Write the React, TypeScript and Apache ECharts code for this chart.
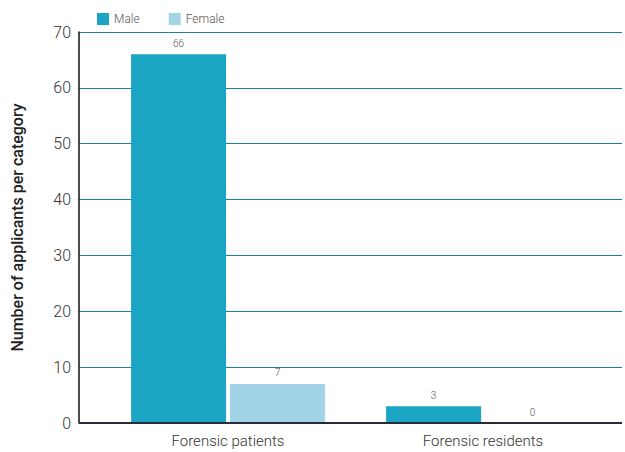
import React, { useEffect, useRef } from "react";
import * as echarts from "echarts";

const categories = ["Forensic patients", "Forensic residents"];
const seriesNames = ["Male", "Female"];
const maleValues = [66, 3];
const femaleValues = [7, 0];
const yTicks = { min: 0, max: 70, interval: 10 };
const yAxisTitle = "Number of applicants per category";

const FONT = "Roboto, 'DejaVu Sans', sans-serif";

export default function App() {
  const ref = useRef<HTMLDivElement>(null);
  useEffect(() => {
    if (!ref.current) return;
    const chart = echarts.init(ref.current, null, { renderer: "svg" });
    const labelStyle = {
      show: true,
      position: "top",
      distance: 6,
      color: "#555",
      fontSize: 10,
      fontWeight: 300,
      fontFamily: FONT,
    };
    chart.setOption({
      animation: false,
      textStyle: { fontFamily: FONT },
      legend: {
        left: 92,
        top: 8,
        itemWidth: 12,
        itemHeight: 12,
        itemGap: 29,
        icon: "rect",
        data: seriesNames,
        textStyle: { color: "#555", fontSize: 12, fontWeight: 300, fontFamily: FONT },
      },
      grid: [
        { left: 79, right: 3, top: 32, bottom: 29 },
        { left: 100.5, right: 14.5, top: 32, bottom: 29 },
      ],
      xAxis: [
        {
          gridIndex: 0,
          type: "category",
          data: categories,
          show: false,
        },
        {
          gridIndex: 1,
          type: "category",
          data: categories,
          axisLine: { show: false },
          axisTick: { show: false },
          axisLabel: { color: "#333", fontSize: 15, fontWeight: 300, margin: 10, fontFamily: FONT },
        },
      ],
      yAxis: [
        {
          gridIndex: 0,
          type: "value",
          min: yTicks.min,
          max: yTicks.max,
          interval: yTicks.interval,
          name: yAxisTitle,
          nameLocation: "middle",
          nameGap: 54,
          nameTextStyle: { color: "#222", fontSize: 16, fontWeight: 500, fontFamily: FONT },
          axisLine: { show: true, lineStyle: { color: "#111", width: 1.5 } },
          axisTick: { show: false },
          axisLabel: { color: "#333", fontSize: 16, fontWeight: 300, margin: 8, fontFamily: FONT },
          splitLine: { show: true, lineStyle: { color: "#1f7fa6", width: 1 } },
        },
        {
          gridIndex: 1,
          type: "value",
          min: yTicks.min,
          max: yTicks.max,
          interval: yTicks.interval,
          show: false,
          splitLine: { show: false },
        },
      ],
      series: [
        {
          type: "bar",
          xAxisIndex: 0,
          yAxisIndex: 0,
          data: [],
          silent: true,
          markLine: {
            silent: true,
            symbol: "none",
            label: { show: false },
            lineStyle: { color: "#2a2a3a", width: 2, type: "solid" },
            data: [{ yAxis: 0 }],
          },
        },
        {
          name: seriesNames[0],
          type: "bar",
          xAxisIndex: 1,
          yAxisIndex: 1,
          data: maleValues,
          barWidth: 95,
          barGap: "4%",
          itemStyle: { color: "#1aa5c5" },
          label: labelStyle,
          z: 3,
        },
        {
          name: seriesNames[1],
          type: "bar",
          xAxisIndex: 1,
          yAxisIndex: 1,
          data: femaleValues,
          barWidth: 95,
          barGap: "4%",
          itemStyle: { color: "#a3d3e6" },
          label: labelStyle,
          z: 3,
        },
      ],
    });
    return () => chart.dispose();
  }, []);
  return (
    <div
      ref={ref}
      style={{ position: "fixed", left: 0, top: 0, width: 625, height: 452, background: "#fff" }}
    />
  );
}
